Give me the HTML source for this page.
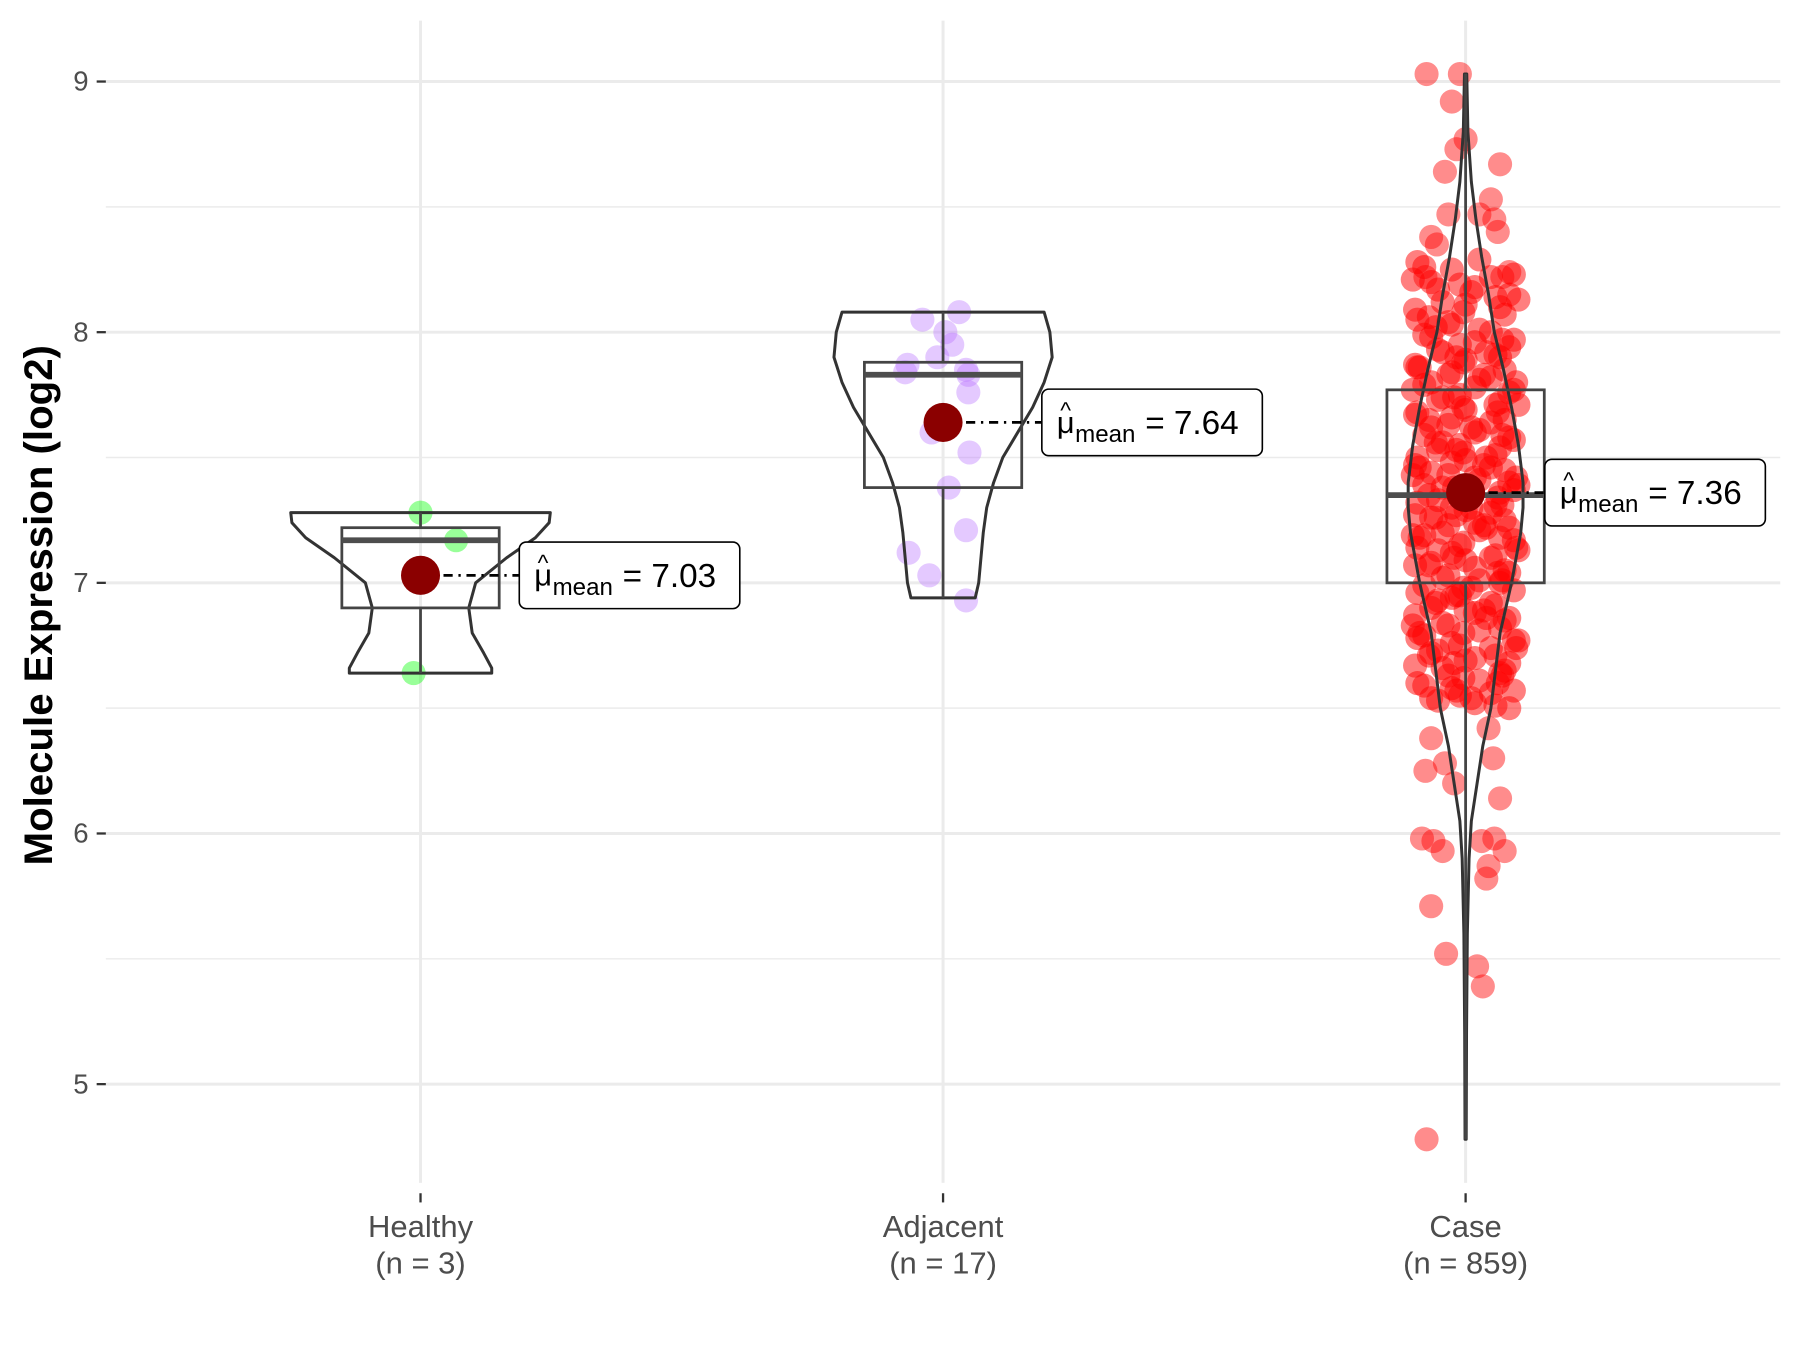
<!DOCTYPE html>
<html><head><meta charset="utf-8"><style>
html,body{margin:0;padding:0;background:#fff}
svg{display:block}
text{font-family:"Liberation Sans",sans-serif}
</style></head><body>
<svg id="chart" width="1800" height="1350" viewBox="0 0 1567 1175.5" xmlns="http://www.w3.org/2000/svg">
<g id="grid"></g>
<g id="marks"></g>
<g id="axes"></g>
<text transform="translate(45,527) rotate(-90)" text-anchor="middle" font-size="35" font-weight="bold">Molecule Expression (log2)</text>
</svg>
<script>
const categories = ["Healthy","Adjacent","Case"];
const counts = [3,17,859];
const means = [7.03,7.64,7.36];
const q1s = [6.90,7.38,7.00];
const medians = [7.17,7.83,7.35];
const q3s = [7.22,7.88,7.77];
const whiskerLo = [6.64,6.94,4.78];
const whiskerHi = [7.28,8.08,9.03];
const yTicks = [5,6,7,8,9];
const yMinor = [5.5,6.5,7.5,8.5];
const violinHealthy = [[7.28,1.13],[7.24,1.12],[7.18,1.0],[7.1,0.75],[7.0,0.48],[6.9,0.42],[6.8,0.45],[6.72,0.55],[6.66,0.62],[6.64,0.62]];
const violinAdjacent = [[8.08,0.88],[8.0,0.93],[7.9,0.95],[7.8,0.88],[7.7,0.78],[7.6,0.65],[7.5,0.52],[7.4,0.44],[7.3,0.38],[7.2,0.35],[7.1,0.33],[7.0,0.31],[6.94,0.28]];
const violinCase = [[9.03,0.01],[8.8,0.02],[8.6,0.05],[8.45,0.09],[8.3,0.14],[8.15,0.2],[8.0,0.25],[7.85,0.33],[7.7,0.4],[7.55,0.46],[7.4,0.5],[7.3,0.5],[7.2,0.48],[7.1,0.44],[7.0,0.4],[6.9,0.35],[6.8,0.3],[6.65,0.26],[6.5,0.22],[6.35,0.15],[6.2,0.1],[6.05,0.05],[5.9,0.03],[5.6,0.015],[5.2,0.008],[4.78,0.005]];
const healthyVals = [7.28,7.17,6.64];
const healthyJit = [0,0.31,-0.06];
const adjacentVals = [8.08,8.05,8.0,7.9,7.87,7.85,7.84,7.83,7.76,7.52,7.38,7.21,7.12,7.03,6.93,7.6,7.95];
const adjacentJit = [0.14,-0.18,0.02,-0.05,-0.31,0.2,-0.33,0.22,0.22,0.23,0.05,0.2,-0.3,-0.12,0.2,-0.1,0.08];
const caseOutVals = [9.03,9.03,8.92,8.73,8.77,8.67,8.64,8.53,8.47,8.47,8.45,8.38,8.4,8.35,8.22,8.22,8.24,6.38,6.42,6.25,6.28,6.3,6.2,6.14,5.98,5.97,5.93,5.98,5.93,5.97,5.87,5.82,5.71,5.52,5.47,5.39,4.78];
const caseOutJit = [-0.34,-0.05,-0.12,-0.08,0,0.3,-0.18,0.22,-0.15,0.12,0.25,-0.3,0.28,-0.25,-0.35,0.32,0.38,-0.3,0.2,-0.35,-0.18,0.24,-0.1,0.3,-0.38,-0.28,-0.2,0.25,0.34,0.14,0.2,0.18,-0.3,-0.17,0.1,0.15,-0.34];
const caseCoreVals = [8.28,8.25,8.22,8.2,8.18,8.15,8.12,8.1,8.08,8.05,8.03,8.0,7.98,7.96,7.94,7.92,7.9,7.88,7.86,7.84,7.82,7.8,7.78,7.76,7.74,7.72,7.7,7.68,7.66,7.64,7.62,7.6,7.58,7.56,7.54,7.52,7.5,7.48,7.46,7.44,7.42,7.4,7.38,7.36,7.34,7.32,7.3,7.28,7.26,7.24,7.22,7.2,7.18,7.16,7.14,7.12,7.1,7.08,7.06,7.04,7.02,7.0,6.98,6.96,6.94,6.92,6.9,6.88,6.86,6.84,6.82,6.8,6.78,6.76,6.74,6.72,6.7,6.68,6.66,6.64,6.62,6.6,6.58,6.56,6.54,6.52,6.5];
const caseCoreVals2 = [8.29,8.26,8.23,8.19,8.17,8.14,8.11,8.09,8.07,8.04,8.01,7.99,7.97,7.95,7.93,7.91,7.89,7.87,7.85,7.83,7.81,7.79,7.77,7.75,7.73,7.71,7.69,7.67,7.65,7.63,7.61,7.59,7.57,7.55,7.53,7.51,7.49,7.47,7.45,7.43,7.41,7.39,7.37,7.35,7.33,7.31,7.29,7.27,7.25,7.23,7.21,7.19,7.17,7.15,7.13,7.11,7.09,7.07,7.05,7.03,7.01,6.99,6.97,6.95,6.93,6.91,6.89,6.87,6.85,6.83,6.81,6.79,6.77,6.75,6.73,6.71,6.69,6.67,6.65,6.63,6.61,6.59,6.57,6.55,6.53,6.51];
const caseCoreVals3 = [8.21,8.13,8.06,7.97,7.9,7.83,7.77,7.71,7.65,7.59,7.53,7.47,7.43,7.39,7.35,7.31,7.27,7.23,7.19,7.13,7.07,7.01,6.95,6.89,6.83,6.77,6.71,6.63,6.57];
const caseCoreVals4 = [8.16,8.02,7.92,7.86,7.8,7.74,7.68,7.62,7.56,7.5,7.46,7.42,7.38,7.34,7.3,7.26,7.22,7.18,7.14,7.1,7.04,6.98,6.92,6.86,6.8,6.74,6.68,6.6,6.54];
const jitCycle = [-0.42,-0.12,0.22,-0.3,0.08,0.38,-0.2,0.3,-0.02];
const jitCycle2 = [0.12,-0.36,0.42,-0.05,-0.24,0.26,0.0,-0.44,0.34,-0.15];
const jitCycle3 = [-0.46,0.46,-0.32,0.32,-0.08,0.16];
const jitCycle4 = [0.05,-0.26,0.18,-0.4,0.44,-0.1,0.28];

const NS="http://www.w3.org/2000/svg";
const yS = v => 71 + (9 - v) * 218.25;
const xS = i => 366 + i * 455;
const unit = 100;
function mk(parent, tag, attrs){const e=document.createElementNS(NS,tag);for(const k in attrs)e.setAttribute(k,attrs[k]);parent.appendChild(e);return e;}
const grid=document.getElementById('grid'), marks=document.getElementById('marks'), axes=document.getElementById('axes');

yMinor.forEach(v=>{const l=mk(grid,'line',{x1:92,x2:1550,y1:yS(v),y2:yS(v),stroke:'#ebebeb','stroke-width':1.3});

});
yTicks.forEach(v=>{const l=mk(grid,'line',{x1:92,x2:1550,y1:yS(v),y2:yS(v),stroke:'#ebebeb','stroke-width':2.6});


const t=mk(axes,'line',{x1:84,x2:92,y1:yS(v),y2:yS(v),stroke:'#333','stroke-width':2});


const tx=mk(axes,'text',{x:77,y:yS(v)+8,'text-anchor':'end','font-size':24,fill:'#4d4d4d'});tx.textContent=v;

});
categories.forEach((c,i)=>{const l=mk(grid,'line',{x1:xS(i),x2:xS(i),y1:18,y2:1030,stroke:'#ebebeb','stroke-width':2.6});


const t=mk(axes,'line',{x1:xS(i),x2:xS(i),y1:1039,y2:1047,stroke:'#333','stroke-width':2});


const a=mk(axes,'text',{x:xS(i),y:1077,'text-anchor':'middle','font-size':27,fill:'#4d4d4d'});a.textContent=c;


const b=mk(axes,'text',{x:xS(i),y:1109,'text-anchor':'middle','font-size':27,fill:'#4d4d4d'});b.textContent='(n = '+counts[i]+')';

});

function points(i,vals,jit,fill,op,name){vals.forEach((v,k)=>{const c=mk(marks,'circle',{cx:xS(i)+jit[k]*unit,cy:yS(v),r:10.5,fill:fill,'fill-opacity':op});

});}
points(0,healthyVals,healthyJit,'#00ff00',0.4,'healthy-point');
points(1,adjacentVals,adjacentJit,'#bb77ff',0.4,'adjacent-point');
points(2,caseCoreVals,caseCoreVals.map((_,k)=>jitCycle[k%jitCycle.length]),'#ff0000',0.5,'case-point');
points(2,caseCoreVals2,caseCoreVals2.map((_,k)=>jitCycle2[k%jitCycle2.length]),'#ff0000',0.5,'case-point');
points(2,caseCoreVals3,caseCoreVals3.map((_,k)=>jitCycle3[k%jitCycle3.length]),'#ff0000',0.5,'case-point');
points(2,caseCoreVals4,caseCoreVals4.map((_,k)=>jitCycle4[k%jitCycle4.length]),'#ff0000',0.5,'case-point');
points(2,caseOutVals,caseOutJit,'#ff0000',0.45,'case-point');

const violins=[violinHealthy,violinAdjacent,violinCase];
violins.forEach((vd,i)=>{let d='';vd.forEach((p,k)=>{d+=(k?'L':'M')+(xS(i)+p[1]*unit)+','+yS(p[0]);});
for(let k=vd.length-1;k>=0;k--)d+='L'+(xS(i)-vd[k][1]*unit)+','+yS(vd[k][0]);d+='Z';
const p=mk(marks,'path',{d:d,fill:'none',stroke:'#333','stroke-width':2.6,'stroke-linejoin':'round'});

});

categories.forEach((c,i)=>{const x=xS(i),hw=68.5;
const w1=mk(marks,'line',{x1:x,x2:x,y1:yS(whiskerLo[i]),y2:yS(q1s[i]),stroke:'#444','stroke-width':2.4});


const w2=mk(marks,'line',{x1:x,x2:x,y1:yS(q3s[i]),y2:yS(whiskerHi[i]),stroke:'#444','stroke-width':2.4});


const r=mk(marks,'rect',{x:x-hw,y:yS(q3s[i]),width:hw*2,height:yS(q1s[i])-yS(q3s[i]),fill:'none',stroke:'#444','stroke-width':2.4});


const m=mk(marks,'line',{x1:x-hw,x2:x+hw,y1:yS(medians[i]),y2:yS(medians[i]),stroke:'#4d4d4d','stroke-width':5});

});

const labelOffsets=[86,86,69];
means.forEach((v,i)=>{const x=xS(i),y=yS(v),lx=x+labelOffsets[i];
const dl=mk(marks,'line',{x1:x,x2:lx,y1:y,y2:y,stroke:'#000','stroke-width':2.4,'stroke-dasharray':'8,5,2,5'});


const dot=mk(marks,'circle',{cx:x,cy:y,r:17,fill:'#8b0000'});


const g=mk(marks,'g',{});


mk(g,'rect',{x:lx,y:y-29,width:192,height:58,rx:6,fill:'#fff',stroke:'#000','stroke-width':1.4});
const hat=mk(g,'text',{x:lx+16,y:y-4,'font-size':20});hat.textContent='^';
const mu=mk(g,'text',{x:lx+13,y:y+9,'font-size':27});mu.textContent='μ';
const sub=mk(g,'text',{x:lx+29,y:y+17,'font-size':21});sub.textContent='mean';
const val=mk(g,'text',{x:lx+90,y:y+10,'font-size':29});val.textContent='= '+v.toFixed(2);});
</script>
</body></html>
